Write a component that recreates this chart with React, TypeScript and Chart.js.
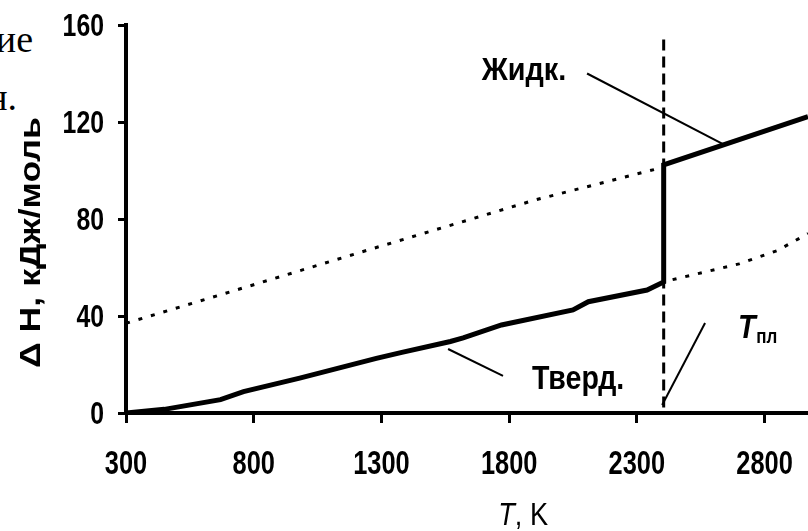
import React, { useEffect, useRef } from "react";
import { Chart, registerables } from "chart.js";

Chart.register(...registerables);

// ---- axes ----
const xTickValues = [300, 800, 1300, 1800, 2300, 2800];
const yTickValues = [0, 40, 80, 120, 160];
const xMin = 300;
const xMax = 2970;
const yMin = 0;
const yMax = 160;

// ---- data (T in K, ΔH in kJ/mol) ----
const meltT = 2405;
const solidT = [300, 450, 670, 760, 980, 1280, 1380, 1570, 1620, 1770, 2050, 2110, 2340, 2405];
const solidH = [0, 1.5, 5.5, 8.8, 14.4, 22.5, 25, 29.5, 31, 36.3, 42.5, 45.9, 50.7, 54];
const liquidT = [2405, 2970];
const liquidH = [102.3, 122.2];
const supercooledT = [300, 800, 1250, 1900, 2405];
const supercooledH = [37, 52.9, 67.3, 87.8, 101.4];
const superheatedT = [2440, 2700, 2850, 2970];
const superheatedH = [55, 61.5, 67, 74];
const meltLineH = [154, 0];

// leader lines
const liquidLeaderT = [2105, 2645];
const liquidLeaderH = [140, 110.5];
const solidLeaderT = [1561, 1776];
const solidLeaderH = [26.4, 15.3];
const meltLeaderT = [2567, 2399];
const meltLeaderH = [37.1, 3.3];

// labels
const liquidLabel = "Жидк.";
const solidLabel = "Тверд.";
const meltLabelMain = "T";
const meltLabelSub = "пл";
const xTitleMain = "T";
const xTitleRest = ", K";
const yTitle = "Δ H, кДж/моль";

const liquidLabelAt = [1858, 137.3];
const solidLabelAt = [2070, 9.9];
const meltLabelAt = [2696, 30.9];
const meltSubAt = [2767, 28.9];
const xTitleAt = 1757;
const yTitleFrom = 18.6;
const yTitleTo = 122;

const SANS = "'Liberation Sans', Arial, sans-serif";

const pts = (xs: number[], ys: number[]) => xs.map((x, i) => ({ x, y: ys[i] }));

function drawScaled(ctx: any, text: string, x: number, y: number, sx: number, align: string) {
  ctx.save();
  ctx.translate(x, y);
  ctx.scale(sx, 1);
  ctx.textAlign = align;
  ctx.fillText(text, 0, 0);
  ctx.restore();
}

const textPlugin = {
  id: "textPlugin",
  afterDraw(chart: any) {
    const { ctx, scales, chartArea } = chart;
    const x = scales.x;
    const y = scales.y;
    ctx.save();
    ctx.fillStyle = "#000";
    ctx.textBaseline = "alphabetic";

    // tick labels (condensed)
    ctx.font = `bold 33px ${SANS}`;
    xTickValues.forEach((v) => drawScaled(ctx, String(v), x.getPixelForValue(v), chartArea.bottom + 61, 0.77, "center"));
    ctx.font = `bold 31px ${SANS}`;
    yTickValues.forEach((v) => drawScaled(ctx, String(v), chartArea.left - 22, y.getPixelForValue(v) + 11, 0.8, "right"));

    // annotations
    ctx.font = `bold 32px ${SANS}`;
    drawScaled(ctx, liquidLabel, x.getPixelForValue(liquidLabelAt[0]), y.getPixelForValue(liquidLabelAt[1]), 0.9, "center");
    ctx.font = `bold 34px ${SANS}`;
    drawScaled(ctx, solidLabel, x.getPixelForValue(solidLabelAt[0]), y.getPixelForValue(solidLabelAt[1]), 0.84, "center");

    ctx.font = `italic bold 34px ${SANS}`;
    drawScaled(ctx, meltLabelMain, x.getPixelForValue(meltLabelAt[0]), y.getPixelForValue(meltLabelAt[1]), 0.85, "left");
    ctx.font = `bold 20px ${SANS}`;
    drawScaled(ctx, meltLabelSub, x.getPixelForValue(meltSubAt[0]), y.getPixelForValue(meltSubAt[1]), 0.85, "left");

    // x axis title
    const xl = x.getPixelForValue(xTitleAt);
    const xb = chartArea.bottom + 112;
    ctx.font = `italic 32px ${SANS}`;
    drawScaled(ctx, xTitleMain, xl, xb, 0.85, "left");
    const w = ctx.measureText(xTitleMain).width * 0.85;
    ctx.font = `32px ${SANS}`;
    drawScaled(ctx, xTitleRest, xl + w, xb, 0.85, "left");

    // y axis title, stretched along its length
    const p0 = y.getPixelForValue(yTitleFrom);
    const p1 = y.getPixelForValue(yTitleTo);
    ctx.font = `bold 29px ${SANS}`;
    const tw = ctx.measureText(yTitle).width;
    ctx.translate(chartArea.left - 86, p0);
    ctx.rotate(-Math.PI / 2);
    ctx.scale((p0 - p1) / tw, 1);
    ctx.textAlign = "left";
    ctx.fillText(yTitle, 0, 0);
    ctx.restore();
  },
};

export default function App() {
  const ref = useRef<HTMLCanvasElement | null>(null);

  useEffect(() => {
    if (!ref.current) return;
    const thick = { borderColor: "#000", borderWidth: 5, pointRadius: 0, tension: 0, fill: false };
    const thin = { borderColor: "#000", borderWidth: 2, pointRadius: 0, tension: 0, fill: false };
    const dotted = { borderColor: "#000", borderWidth: 3, pointRadius: 0, tension: 0, fill: false, borderDash: [4, 9] };
    const chart = new Chart(ref.current, {
      type: "line",
      data: {
        datasets: [
          { ...thick, data: [...pts(solidT, solidH), ...pts(liquidT, liquidH)] },
          { ...dotted, data: pts(supercooledT, supercooledH) },
          { ...dotted, data: pts(superheatedT, superheatedH) },
          { ...dotted, borderDash: [11, 6], data: pts([meltT, meltT], meltLineH) },
          { ...thin, data: pts(liquidLeaderT, liquidLeaderH) },
          { ...thin, data: pts(solidLeaderT, solidLeaderH) },
          { ...thin, data: pts(meltLeaderT, meltLeaderH) },
        ] as any,
      },
      options: {
        animation: false,
        responsive: false,
        devicePixelRatio: 1,
        layout: { padding: { top: 25, right: 0, left: 0, bottom: 0 } },
        plugins: { legend: { display: false }, tooltip: { enabled: false }, title: { display: false } },
        scales: {
          x: {
            type: "linear",
            min: xMin,
            max: xMax,
            afterBuildTicks: (s: any) => {
              s.ticks = xTickValues.map((v) => ({ value: v }));
            },
            afterFit: (s: any) => {
              s.height = 118;
            },
            grid: { drawOnChartArea: false, drawTicks: true, tickLength: 10, tickWidth: 3, tickColor: "#000" },
            border: { display: true, color: "#000", width: 4 },
            ticks: { display: false },
          },
          y: {
            type: "linear",
            min: yMin,
            max: yMax,
            afterBuildTicks: (s: any) => {
              s.ticks = yTickValues.map((v) => ({ value: v }));
            },
            afterFit: (s: any) => {
              s.width = 126;
            },
            grid: { drawOnChartArea: false, drawTicks: true, tickLength: 8, tickWidth: 3, tickColor: "#000" },
            border: { display: true, color: "#000", width: 4 },
            ticks: { display: false },
          },
        },
      } as any,
      plugins: [textPlugin],
    });
    return () => chart.destroy();
  }, []);

  const serif = "'Liberation Serif', 'Times New Roman', serif";
  return (
    <div style={{ position: "fixed", left: 0, top: 0, width: 808, height: 531, overflow: "hidden", background: "#fff" }}>
      <div style={{ position: "absolute", right: 808 - 33, top: 20, fontFamily: serif, fontSize: 38, lineHeight: 1, whiteSpace: "nowrap" }}>ие</div>
      <div style={{ position: "absolute", right: 808 - 17, top: 78, fontFamily: serif, fontSize: 38, lineHeight: 1, whiteSpace: "nowrap" }}>н.</div>
      <canvas ref={ref} width={808} height={531} style={{ position: "absolute", left: 0, top: 0, width: 808, height: 531 }} />
    </div>
  );
}
